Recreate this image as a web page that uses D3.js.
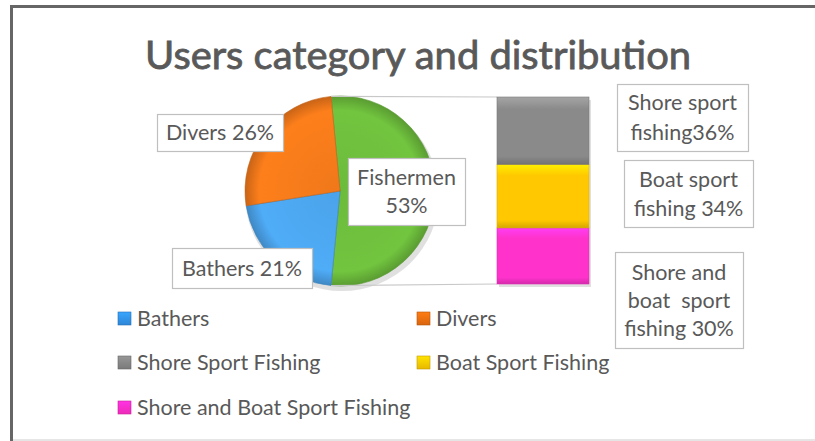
<html>
<head>
<script src="https://d3js.org/d3.v7.min.js"></script>
<style>
  body { margin: 0; background: #fff; }
  text { font-family: Lato, "Open Sans", sans-serif; fill: #595959; white-space: pre; }
</style>
</head>
<body>
<div id="chart"></div>
<script>
// data
var pieCats = ["Fishermen", "Bathers", "Divers"];
var pieVals = [53, 21, 26];
var pieColors = ["#6cbb3c", "#4ba3ea", "#f0781a"];
var pieLabels = [["Fishermen", "53%"], ["Bathers 21%"], ["Divers 26%"]];

var barCats = ["Shore and Boat Sport Fishing", "Boat Sport Fishing", "Shore Sport Fishing"];
var barVals = [30, 34, 36];
var barColors = ["#ff33cc", "#ffc800", "#8a8a8a"];
var barLabels = [["Shore and", "boat  sport", "fishing 30%"], ["Boat sport", "fishing 34%"], ["Shore sport", "fishing36%"]];

var legendNames = ["Bathers", "Divers", "Shore Sport Fishing", "Boat Sport Fishing", "Shore and Boat Sport Fishing"];
var legendColors = ["#2e86d6", "#d9650f", "#7a7a7a", "#e8b800", "#ee2ab8"];

var width = 815, height = 441;
var fs = 21.5;
var svg = d3.select("#chart").append("svg")
    .attr("width", width).attr("height", height);

// frame
svg.append("line").attr("x1", 11.5).attr("x2", 11.5).attr("y1", 5).attr("y2", height)
    .attr("stroke", "#666").attr("stroke-width", 3);
svg.append("line").attr("x1", 10).attr("x2", width).attr("y1", 6.5).attr("y2", 6.5)
    .attr("stroke", "#666").attr("stroke-width", 3);
svg.append("line").attr("x1", 13).attr("x2", width).attr("y1", 440).attr("y2", 440)
    .attr("stroke", "#ccc").attr("stroke-width", 1);

svg.append("text").attr("x", 418).attr("y", 69)
    .attr("text-anchor", "middle").style("font-size", "38px")
    .style("font-weight", "normal").style("stroke", "#595959").style("stroke-width", 0.8)
    .attr("textLength", 546).attr("lengthAdjust", "spacingAndGlyphs")
    .text("Users category and distribution");

var defs = svg.append("defs");

// pie
var cx = 340, cy = 191, r = 95;
var startA = -(pieVals[0] / 100) * Math.PI; // centre the first slice to the right
var pie = d3.pie().sort(null).value(d => d)
    .startAngle(Math.PI / 2 + startA).endAngle(Math.PI / 2 + startA + 2 * Math.PI);
var arcs = pie(pieVals);
var arc = d3.arc().innerRadius(0).outerRadius(r);

pieColors.forEach(function (c, i) {
    var g = defs.append("radialGradient").attr("id", "pg" + i)
        .attr("gradientUnits", "userSpaceOnUse")
        .attr("cx", 0).attr("cy", 0).attr("r", r);
    g.append("stop").attr("offset", "0%").attr("stop-color", c);
    g.append("stop").attr("offset", "85%").attr("stop-color", d3.color(c).brighter(0.15));
    g.append("stop").attr("offset", "100%").attr("stop-color", d3.color(c).darker(0.5));
});

var pg = svg.append("g").attr("transform", `translate(${cx},${cy})`);
pg.append("ellipse").attr("cx", 2).attr("cy", 4).attr("rx", r + 2).attr("ry", r + 1)
    .attr("fill", "#000").attr("opacity", 0.12);
pg.selectAll("path").data(arcs).enter().append("path")
    .attr("d", arc)
    .attr("fill", (d, i) => "url(#pg" + i + ")")
    .attr("stroke", (d, i) => d3.color(pieColors[i]).darker(0.6))
    .attr("stroke-width", 0.6);

// bar of pie
var bx = 497, bw = 92;
var y = d3.scaleLinear().domain([0, d3.sum(barVals)]).range([284, 97]);
var stacked = [];
var acc = 0;
barVals.forEach(function (v, i) { stacked.push({ y0: acc, y1: acc + v, i: i }); acc += v; });

// connector lines
var topPt = arcs[0].startAngle, botPt = arcs[0].endAngle;
svg.append("line")
    .attr("x1", cx + r * Math.sin(topPt)).attr("y1", cy - r * Math.cos(topPt))
    .attr("x2", bx).attr("y2", y(d3.sum(barVals)))
    .attr("stroke", "#c8c8c8").attr("stroke-width", 1.2);
svg.append("line")
    .attr("x1", cx + r * Math.sin(botPt)).attr("y1", cy - r * Math.cos(botPt))
    .attr("x2", bx).attr("y2", y(0))
    .attr("stroke", "#c8c8c8").attr("stroke-width", 1.2);

barColors.forEach(function (c, i) {
    var g = defs.append("linearGradient").attr("id", "bg" + i)
        .attr("x1", 0).attr("x2", 0).attr("y1", 0).attr("y2", 1);
    g.append("stop").attr("offset", "0%").attr("stop-color", d3.color(c).brighter(0.5));
    g.append("stop").attr("offset", "18%").attr("stop-color", c);
    g.append("stop").attr("offset", "88%").attr("stop-color", c);
    g.append("stop").attr("offset", "100%").attr("stop-color", d3.color(c).darker(0.5));
});

svg.append("rect").attr("x", bx + 2).attr("y", y(d3.sum(barVals)) + 3)
    .attr("width", bw).attr("height", y(0) - y(d3.sum(barVals)))
    .attr("fill", "#000").attr("opacity", 0.12);
svg.selectAll("rect.seg").data(stacked).enter().append("rect")
    .attr("class", "seg")
    .attr("x", bx).attr("width", bw)
    .attr("y", d => y(d.y1)).attr("height", d => y(d.y0) - y(d.y1))
    .attr("fill", d => "url(#bg" + d.i + ")")
    .attr("stroke", d => d3.color(barColors[d.i]).darker(0.4)).attr("stroke-width", 0.6);

// label boxes
function labelBox(x0, y0, w, h, lines, lh) {
    var g = svg.append("g");
    g.append("rect").attr("x", x0 + 0.5).attr("y", y0 + 0.5).attr("width", w).attr("height", h)
        .attr("fill", "#fff").attr("stroke", "#bfbfbf").attr("stroke-width", 1.2);
    var startY = y0 + h / 2 - (lines.length - 1) * lh / 2;
    lines.forEach(function (t, k) {
        g.append("text").attr("x", x0 + w / 2).attr("y", startY + k * lh)
            .attr("dy", "0.35em").attr("text-anchor", "middle")
            .style("font-size", fs + "px").text(t);
    });
}

labelBox(348, 158, 117, 67, pieLabels[0], 28);
labelBox(172, 248, 140, 40, pieLabels[1], 28);
labelBox(157, 114, 126, 37, pieLabels[2], 28);
labelBox(617, 84, 131, 67, barLabels[2], 30);
labelBox(624, 160, 129, 67, barLabels[1], 29);
labelBox(615, 252, 128, 96, barLabels[0], 28);

// legend
var legendPos = [[118, 318], [417, 318], [118, 362], [417, 362], [118, 407]];
var lg = svg.append("g");
legendNames.forEach(function (n, i) {
    var p = legendPos[i];
    var gi = defs.append("linearGradient").attr("id", "lg" + i)
        .attr("x1", 0).attr("x2", 0).attr("y1", 0).attr("y2", 1);
    gi.append("stop").attr("offset", "0%").attr("stop-color", d3.color(legendColors[i]).brighter(0.6));
    gi.append("stop").attr("offset", "100%").attr("stop-color", legendColors[i]);
    lg.append("rect").attr("x", p[0]).attr("y", p[1] - 6).attr("width", 13).attr("height", 13)
        .attr("fill", "url(#lg" + i + ")").attr("stroke", d3.color(legendColors[i]).darker(0.5))
        .attr("stroke-width", 0.6);
    lg.append("text").attr("x", p[0] + 19).attr("y", p[1]).attr("dy", "0.35em")
        .style("font-size", fs + "px").text(n);
});
</script>
</body>
</html>
